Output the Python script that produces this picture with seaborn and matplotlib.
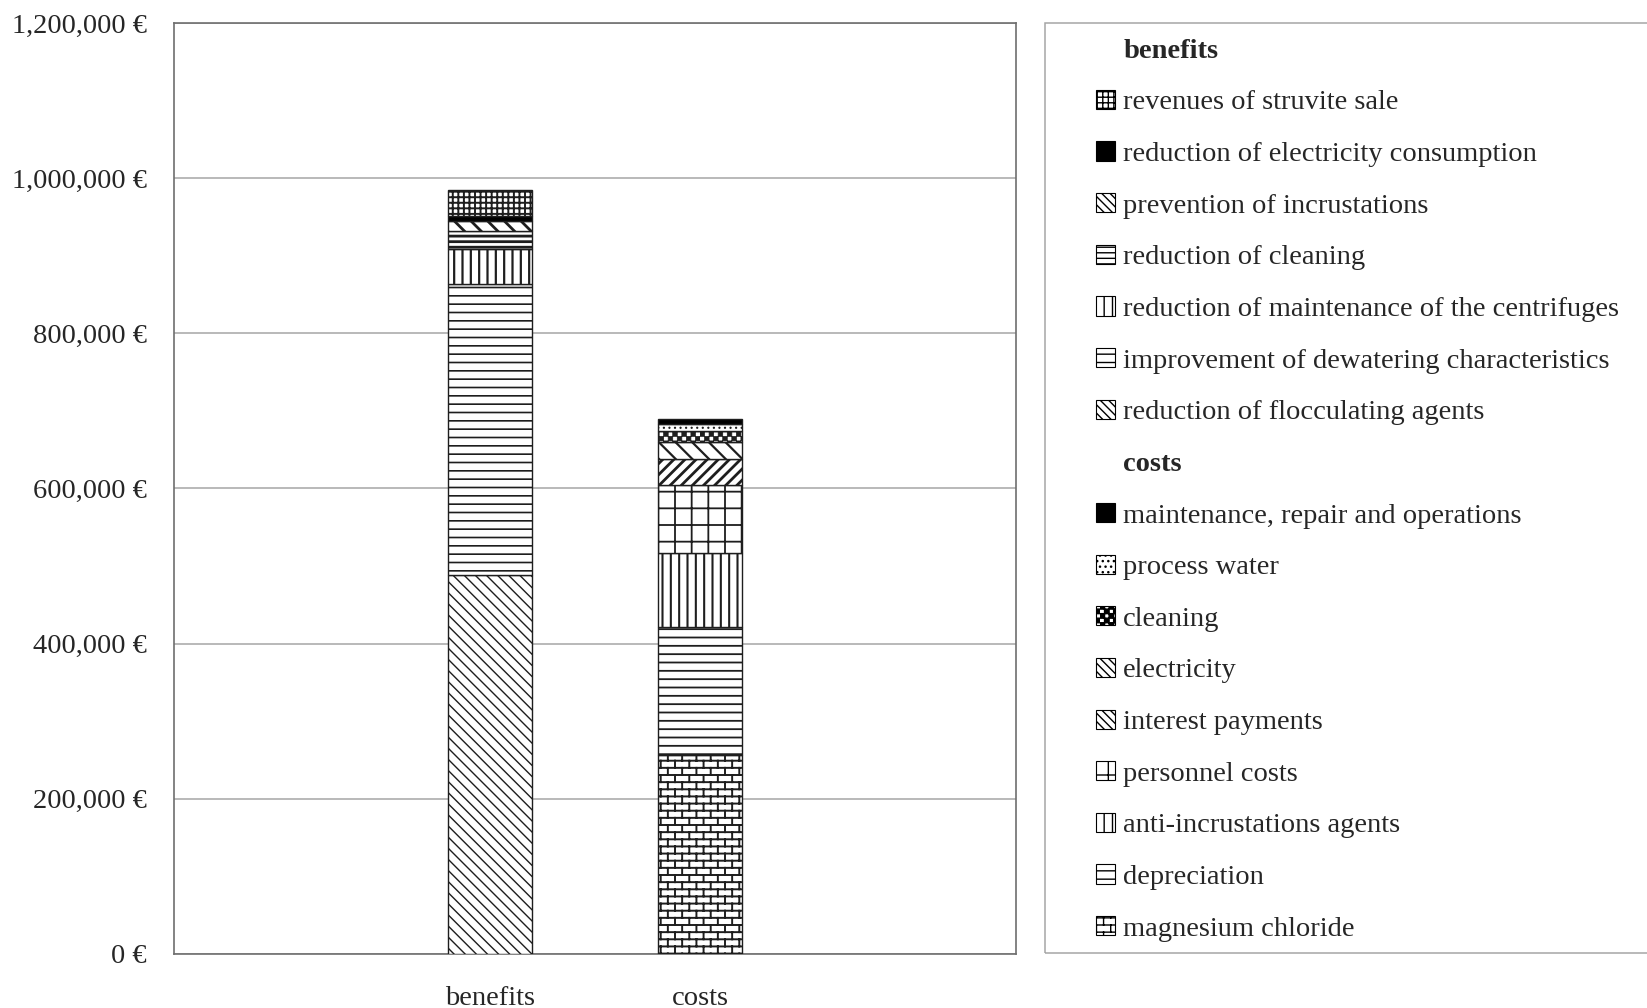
import numpy as np
import matplotlib
matplotlib.use("Agg")
import matplotlib as mpl
import matplotlib.pyplot as plt
from matplotlib import hatch as mhatch
from matplotlib.path import Path
from matplotlib.patches import Patch, Rectangle
from matplotlib.ticker import MultipleLocator, FuncFormatter
import seaborn as sns

# ---------------------------------------------------------------- data
categories = ["benefits", "costs"]

# stacked from bottom to top
benefit_items = [
    "reduction of flocculating agents",
    "improvement of dewatering characteristics",
    "reduction of maintenance of the centrifuges",
    "reduction of cleaning",
    "prevention of incrustations",
    "reduction of electricity consumption",
    "revenues of struvite sale",
]
benefit_values = [489000, 374000, 45500, 24000, 12700, 6000, 33600]

cost_items = [
    "magnesium chloride",
    "depreciation",
    "anti-incrustations agents",
    "personnel costs",
    "interest payments",
    "electricity",
    "cleaning",
    "process water",
    "maintenance, repair and operations",
]
cost_values = [256300, 165000, 95800, 87900, 32900, 21900, 14200, 9000, 6400]

y_ticks = [0, 200000, 400000, 600000, 800000, 1000000, 1200000]


# ---------------------------------------------------------------- extra hatch patterns
class BrickHatch(mhatch.HatchPatternBase):
    """Running-bond brick wall, triggered by 'O'."""
    rows = 14
    cols = 7

    def __init__(self, hatch, density):
        self.active = "O" in hatch
        if self.active:
            self.num_vertices = 2 * self.rows + 2 * (self.rows + 1) * self.cols
        else:
            self.num_vertices = 0

    def set_vertices_and_codes(self, vertices, codes):
        r, c = self.rows, self.cols
        v = []
        for i in range(r):
            y = (i + 0.5) / r
            v += [(0.0, y), (1.0, y)]
        for i in range(-1, r):
            y0 = (i + 0.5) / r
            y1 = (i + 1.5) / r
            shift = 0.25 if (i % 2 == 0) else 0.75
            for k in range(c):
                x = (k + shift) / c
                v += [(x, y0), (x, y1)]
        vertices[:] = np.array(v)
        codes[0::2] = Path.MOVETO
        codes[1::2] = Path.LINETO


class CheckerHatch(mhatch.HatchPatternBase):
    """Filled checkerboard, triggered by '*'."""
    n = 22
    filled = True

    def __init__(self, hatch, density):
        self.active = "*" in hatch
        if self.active:
            self.num_vertices = 5 * (self.n * self.n // 2)
        else:
            self.num_vertices = 0

    def set_vertices_and_codes(self, vertices, codes):
        n = self.n
        s = 1.0 / n
        v, cd = [], []
        for i in range(n):
            for j in range(n):
                if (i + j) % 2 == 0:
                    x0, y0 = i * s, j * s
                    v += [(x0, y0), (x0 + s, y0), (x0 + s, y0 + s),
                          (x0, y0 + s), (x0, y0)]
                    cd += [Path.MOVETO, Path.LINETO, Path.LINETO,
                           Path.LINETO, Path.CLOSEPOLY]
        vertices[:] = np.array(v)
        codes[:] = np.array(cd, dtype=Path.code_type)


mhatch._hatch_types[:] = [t for t in mhatch._hatch_types
                          if t not in (mhatch.LargeCircles, mhatch.Stars)]
mhatch._hatch_types += [BrickHatch, CheckerHatch]

# ---------------------------------------------------------------- styling of every segment
styles = {
    "reduction of flocculating agents": dict(hatch="\\\\\\", lw=1.0, face="white"),
    "improvement of dewatering characteristics": dict(hatch="--", lw=1.2, face="white"),
    "reduction of maintenance of the centrifuges": dict(hatch="||", lw=1.6, face="white"),
    "reduction of cleaning": dict(hatch="---", lw=2.0, face="white"),
    "prevention of incrustations": dict(hatch="\\\\", lw=2.0, face="white"),
    "reduction of electricity consumption": dict(hatch=None, lw=1.0, face="black"),
    "revenues of struvite sale": dict(hatch="+++", lw=1.4, face="white"),
    "magnesium chloride": dict(hatch="O", lw=1.4, face="white"),
    "depreciation": dict(hatch="--", lw=1.3, face="white"),
    "anti-incrustations agents": dict(hatch="||", lw=1.5, face="white"),
    "personnel costs": dict(hatch="+", lw=1.3, face="white"),
    "interest payments": dict(hatch="///", lw=2.0, face="white"),
    "electricity": dict(hatch="\\\\", lw=1.6, face="white"),
    "cleaning": dict(hatch="*", lw=0.5, face="white"),
    "process water": dict(hatch="...", lw=0.8, face="white"),
    "maintenance, repair and operations": dict(hatch=None, lw=1.0, face="black"),
}
# legend icons: denser patterns so they read at icon size
legend_hatch = dict((k, v["hatch"]) for k, v in styles.items())
for k in ("interest payments", "electricity", "prevention of incrustations",
          "reduction of flocculating agents"):
    legend_hatch[k] = "\\\\\\\\"

EDGE = "#1e1e1e"
SERIF = ["Liberation Serif", "DejaVu Serif"]
FS = 20.5

sns.set_style("white")
plt.rcParams["font.family"] = SERIF

fig = plt.figure(figsize=(16.47, 10.08), dpi=100)
ax = fig.add_axes([174.4 / 1647, 1 - 953.8 / 1008, (1015.7 - 174.4) / 1647, (953.8 - 23.1) / 1008])


def draw_stack(category, items, values):
    base = 0.0
    for item, val in zip(items, values):
        st = styles[item]
        n0 = len(ax.patches)
        with mpl.rc_context({"hatch.linewidth": st["lw"]}):
            sns.barplot(x=[category], y=[val], order=categories, bottom=base,
                        width=0.4, color=st["face"], saturation=1,
                        edgecolor=EDGE, linewidth=1.0, hatch=st["hatch"],
                        errorbar=None, ax=ax, zorder=3)
        for p in ax.patches[n0:]:
            if hasattr(p, "set_hatch_linewidth"):
                p.set_hatch_linewidth(st["lw"])
        base += val


draw_stack("benefits", benefit_items, benefit_values)
draw_stack("costs", cost_items, cost_values)

# ---------------------------------------------------------------- axes
ax.set_xlim(-1.5, 2.5)
ax.set_ylim(y_ticks[0], y_ticks[-1])
ax.yaxis.set_major_locator(MultipleLocator(200000))
ax.yaxis.set_major_formatter(FuncFormatter(lambda v, _: f"{v:,.0f} €"))
ax.set_xlabel("")
ax.set_ylabel("")
ax.yaxis.grid(True, color="#a6a6a6", linewidth=1.1, zorder=0)
ax.xaxis.grid(False)
ax.set_axisbelow(True)
ax.tick_params(axis="y", length=0, pad=20, labelsize=FS)
ax.tick_params(axis="x", length=0, pad=23, labelsize=FS)
for sp in ax.spines.values():
    sp.set_visible(True)
    sp.set_color("#6e6e6e")
    sp.set_linewidth(1.2)

# ---------------------------------------------------------------- legend
handles = [Patch(visible=False, label="benefits")]
for item in reversed(benefit_items):
    st = styles[item]
    handles.append(Patch(facecolor=st["face"], edgecolor="black", linewidth=0.8,
                         hatch=legend_hatch[item], label=item))
handles.append(Patch(visible=False, label="costs"))
for item in reversed(cost_items):
    st = styles[item]
    handles.append(Patch(facecolor=st["face"], edgecolor="black", linewidth=0.8,
                         hatch=legend_hatch[item], label=item))

with mpl.rc_context({"hatch.linewidth": 1.0}):
    leg = fig.legend(handles=handles, loc="upper left",
                     bbox_to_anchor=(1096 / 1647, 1 - 38.2 / 1008),
                     frameon=False, fontsize=FS, borderpad=0, borderaxespad=0,
                     handlelength=0.66, handleheight=0.66, handletextpad=0.3,
                     labelspacing=0.915)
for t in leg.get_texts():
    if t.get_text() in categories:
        t.set_fontweight("bold")

fig.patches.append(Rectangle((1045 / 1647, 1 - 953 / 1008), 0.5, (953 - 23) / 1008,
                             transform=fig.transFigure, facecolor="none",
                             edgecolor="#a6a6a6", linewidth=1.1))

fig.savefig("out.png", dpi=100)
